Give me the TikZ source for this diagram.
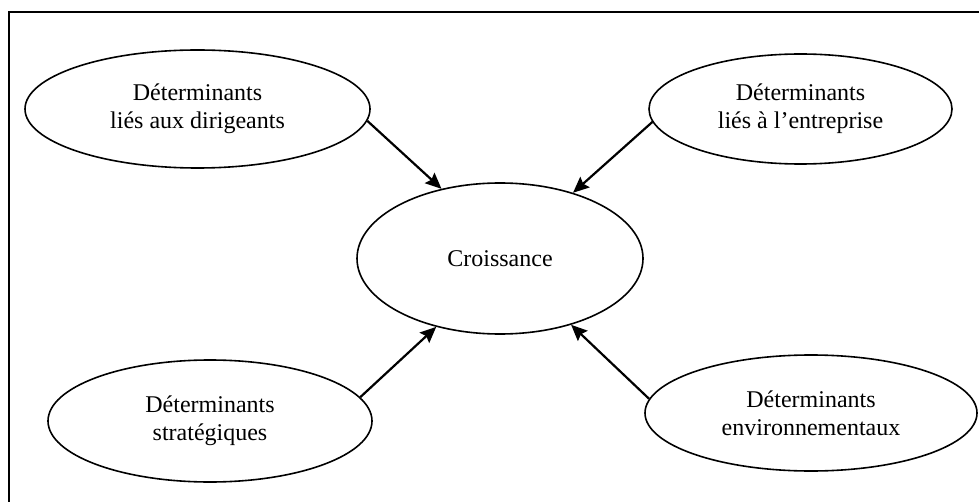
\documentclass[tikz,border=0pt]{standalone}
\usepackage{fontspec}
\setmainfont{Liberation Serif}
\usepackage{tikz}
\usetikzlibrary{arrows.meta,shapes.geometric}
\tikzset{
  frameline/.style = {line width=1pt},
  det/.style       = {ellipse, draw, line width=0.8pt, inner sep=0pt,
                      align=center, font=\fontsize{12}{14}\selectfont},
  link/.style      = {-{Stealth[length=8pt,width=7pt,inset=1.2pt]}, line width=1.1pt},
}

\begin{document}
\begin{tikzpicture}[x=0.5pt,y=-0.5pt]
  \clip (0,0) rectangle (979,502);
  \draw[frameline] (9,520) -- (9,12) -- (990,12);

  \node[det, minimum width=172.5pt, minimum height=59pt] (dirig) at (197.5,109)
       {Déterminants\\liés aux dirigeants};
  \node[det, minimum width=151.5pt, minimum height=55pt] (entr) at (800.5,109)
       {Déterminants\\liés à l’entreprise};
  \node[det, minimum width=143pt, minimum height=75.5pt] (crois) at (500,258.5)
       {Croissance};
  \node[det, minimum width=162pt, minimum height=61pt] (strat) at (210,421)
       {Déterminants\\stratégiques};
  \node[det, minimum width=166pt, minimum height=58pt] (envir) at (811,413)
       {Déterminants\\environnementaux};

  \draw[link] (dirig.-4) -- (crois.130);
  \draw[link] (entr.185) -- (crois.42);
  \draw[link] (strat.9) -- (crois.227);
  \draw[link] (envir.175) -- (crois.317);
\end{tikzpicture}
\end{document}
